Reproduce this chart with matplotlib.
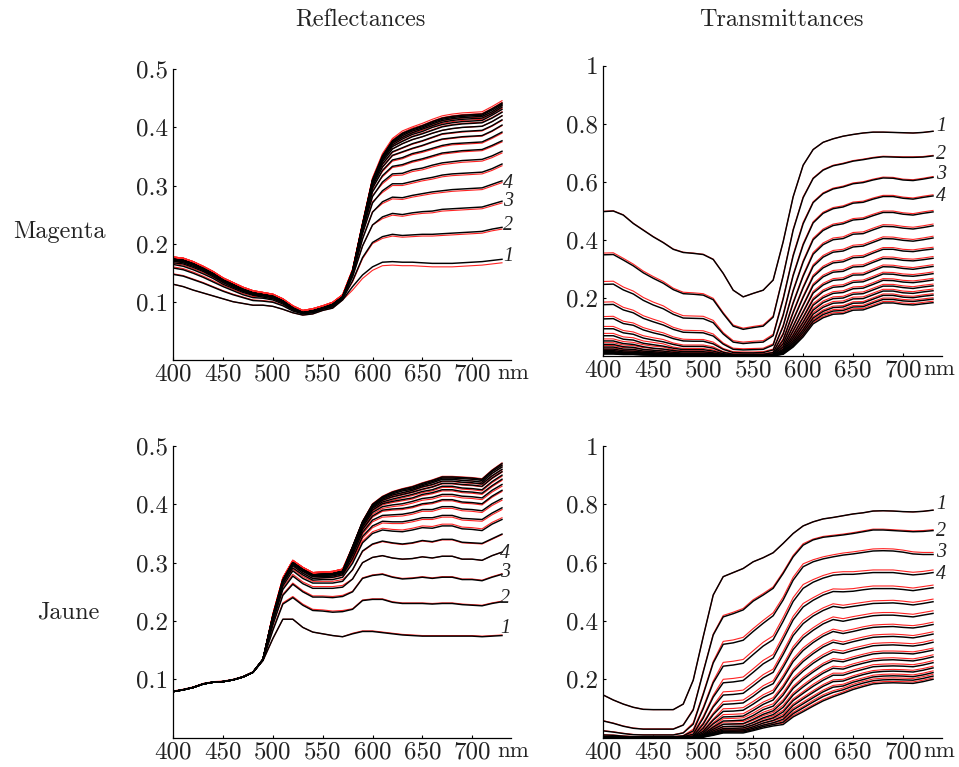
import numpy as np
import matplotlib
matplotlib.use("Agg")
import matplotlib.pyplot as plt

plt.rcParams['font.family'] = ['cmr10', 'DejaVu Serif']
plt.rcParams['mathtext.fontset'] = 'cm'
plt.rcParams['axes.formatter.use_mathtext'] = True

# ---------------- data ----------------
wavelengths = [400, 410, 420, 430, 440, 450, 460, 470, 480, 490, 500, 510,
               520, 530, 540, 550, 560, 570, 580, 590, 600, 610, 620, 630,
               640, 650, 660, 670, 680, 690, 700, 710, 720, 730]
xticks = [400, 450, 500, 550, 600, 650, 700]
xtick_labels = ['400', '450', '500', '550', '600', '650', '700']
refl_yticks = [0.1, 0.2, 0.3, 0.4, 0.5]
refl_ytick_labels = ['0.1', '0.2', '0.3', '0.4', '0.5']
trans_yticks = [0.2, 0.4, 0.6, 0.8, 1.0]
trans_ytick_labels = ['0.2', '0.4', '0.6', '0.8', '1']
col_titles = ['Reflectances', 'Transmittances']
row_labels = ['Magenta', 'Jaune']
curve_tags = ['1', '2', '3', '4']
tag_y_magenta_refl = [0.177, 0.231, 0.272, 0.303]
tag_y_magenta_trans = [0.790, 0.694, 0.625, 0.548]
tag_y_jaune_refl = [0.187, 0.239, 0.283, 0.316]
tag_y_jaune_trans = [0.798, 0.708, 0.634, 0.558]

# rows = wavelengths (400..730 nm), columns = layers 1..17 (black curves)
magenta_refl_black = [
    [.130,.147,.158,.164,.167,.170,.171,.172,.172,.173,.173,.173,.173,.173,.173,.173,.173],
    [.126,.144,.155,.161,.165,.167,.169,.170,.170,.171,.171,.171,.171,.171,.171,.171,.171],
    [.120,.138,.149,.155,.159,.161,.163,.164,.164,.165,.165,.165,.165,.165,.165,.165,.165],
    [.115,.132,.142,.148,.152,.154,.155,.156,.156,.157,.157,.157,.157,.157,.157,.157,.157],
    [.110,.125,.134,.140,.143,.145,.146,.147,.147,.148,.148,.148,.148,.148,.148,.148,.148],
    [.105,.118,.126,.130,.133,.135,.136,.136,.137,.137,.137,.137,.137,.137,.137,.137,.137],
    [.100,.112,.119,.123,.125,.127,.128,.128,.129,.129,.129,.129,.129,.129,.129,.129,.129],
    [.097,.107,.112,.116,.118,.119,.120,.120,.121,.121,.121,.121,.121,.121,.121,.121,.121],
    [.094,.102,.107,.111,.112,.113,.114,.114,.115,.115,.115,.115,.115,.115,.115,.115,.115],
    [.094,.101,.106,.108,.110,.111,.111,.112,.112,.112,.112,.112,.112,.112,.112,.112,.112],
    [.092,.099,.103,.105,.107,.108,.108,.109,.109,.109,.109,.109,.109,.109,.109,.109,.109],
    [.087,.093,.096,.098,.099,.100,.100,.101,.101,.101,.101,.101,.101,.101,.101,.101,.101],
    [.081,.084,.086,.087,.088,.088,.089,.089,.089,.089,.089,.089,.089,.089,.089,.089,.089],
    [.077,.079,.080,.080,.081,.081,.081,.081,.081,.081,.081,.081,.081,.081,.081,.081,.081],
    [.079,.081,.082,.083,.083,.084,.084,.084,.084,.084,.084,.084,.084,.084,.084,.084,.084],
    [.085,.087,.088,.088,.089,.089,.089,.089,.089,.089,.089,.089,.089,.089,.089,.089,.089],
    [.089,.091,.093,.094,.094,.095,.095,.095,.095,.095,.095,.095,.095,.095,.095,.095,.095],
    [.103,.105,.106,.107,.107,.108,.108,.108,.108,.108,.108,.108,.108,.108,.108,.108,.108],
    [.126,.136,.143,.146,.149,.150,.151,.151,.152,.152,.152,.152,.152,.152,.152,.152,.152],
    [.146,.176,.196,.208,.217,.222,.226,.228,.229,.230,.231,.231,.232,.232,.232,.232,.232],
    [.160,.202,.232,.254,.270,.281,.289,.295,.299,.302,.304,.306,.307,.308,.309,.309,.309],
    [.168,.212,.246,.272,.291,.306,.317,.326,.332,.337,.341,.344,.346,.348,.349,.350,.351],
    [.169,.216,.252,.280,.303,.320,.333,.344,.352,.358,.363,.367,.370,.373,.374,.376,.377],
    [.168,.214,.250,.279,.303,.321,.336,.348,.358,.365,.372,.376,.380,.383,.386,.388,.390],
    [.168,.215,.253,.283,.307,.327,.342,.355,.364,.372,.379,.384,.388,.391,.394,.396,.397],
    [.167,.216,.255,.286,.311,.330,.346,.359,.369,.377,.384,.389,.393,.397,.399,.401,.403],
    [.166,.216,.256,.289,.314,.335,.351,.364,.375,.383,.390,.395,.400,.403,.406,.408,.410],
    [.166,.217,.259,.291,.318,.339,.356,.369,.380,.389,.395,.401,.405,.409,.412,.414,.416],
    [.166,.218,.260,.293,.320,.341,.358,.372,.382,.391,.398,.404,.408,.412,.415,.417,.419],
    [.167,.219,.261,.294,.321,.343,.360,.373,.384,.393,.400,.406,.410,.414,.417,.419,.421],
    [.168,.220,.262,.295,.322,.344,.361,.374,.385,.394,.401,.407,.411,.415,.418,.420,.422],
    [.169,.221,.263,.296,.323,.345,.362,.375,.386,.395,.402,.408,.412,.416,.419,.421,.423],
    [.171,.225,.268,.302,.329,.351,.369,.383,.394,.403,.410,.416,.421,.424,.427,.430,.432],
    [.173,.228,.273,.308,.337,.359,.377,.392,.404,.413,.420,.426,.431,.435,.438,.440,.442],
]
# red curves: offset from the black ones, in thousandths
magenta_refl_red_milli = [
    [0,1,2,2,2,3,3,3,3,3,3,3,4,4,4,4,4],
    [0,1,2,2,2,3,3,3,3,3,3,3,4,4,4,4,4],
    [0,1,2,2,2,3,3,3,3,3,3,3,4,4,4,4,4],
    [0,1,2,2,2,3,3,3,3,3,3,3,4,4,4,4,4],
    [0,1,2,2,2,3,3,3,3,3,3,3,4,4,4,4,4],
    [0,1,2,2,2,3,3,3,3,3,3,3,4,4,4,4,4],
    [0,1,2,2,2,3,3,3,3,3,3,3,4,4,4,4,4],
    [0,1,2,2,2,3,3,3,3,3,3,3,4,4,4,4,4],
    [0,1,2,2,2,3,3,3,3,3,3,3,4,4,4,4,4],
    [0,1,2,2,2,3,3,3,3,3,3,3,4,4,4,4,4],
    [0,1,2,2,2,3,3,3,3,3,3,3,4,4,4,4,4],
    [0,1,2,2,2,3,3,3,3,3,3,3,4,4,4,4,4],
    [0,1,2,2,2,3,3,3,3,3,3,3,4,4,4,4,4],
    [0,1,2,2,2,3,3,3,3,3,3,3,4,4,4,4,4],
    [0,1,2,2,2,3,3,3,3,3,3,3,4,4,4,4,4],
    [0,1,2,2,2,3,3,3,3,3,3,3,4,4,4,4,4],
    [0,1,2,2,2,3,3,3,3,3,3,3,4,4,4,4,4],
    [0,1,2,2,2,3,3,3,3,3,3,3,4,4,4,4,4],
    [-6,-2,0,1,2,2,3,3,3,3,3,3,3,3,3,3,4],
    [-6,-2,0,1,2,2,3,3,3,3,3,3,3,3,3,3,4],
    [-6,-2,0,1,2,2,3,3,3,3,3,3,3,3,3,3,4],
    [-6,-3,-3,-3,-3,-3,-2,-2,-1,-1,0,1,2,2,3,3,4],
    [-6,-3,-3,-3,-3,-3,-2,-2,-1,-1,0,1,2,2,3,3,4],
    [-6,-3,-3,-3,-3,-3,-2,-2,-1,-1,0,1,2,2,3,3,4],
    [-6,-3,-3,-3,-3,-3,-2,-2,-1,-1,0,1,2,2,3,3,4],
    [-6,-3,-3,-3,-3,-3,-2,-2,-1,-1,0,1,2,2,3,3,4],
    [-6,-3,-3,-3,-3,-3,-2,-2,-1,-1,0,1,2,2,3,3,4],
    [-6,-3,-3,-3,-3,-3,-2,-2,-1,-1,0,1,2,2,3,3,4],
    [-6,-3,-3,-3,-3,-3,-2,-2,-1,-1,0,1,2,2,3,3,4],
    [-6,-3,-3,-3,-3,-3,-2,-2,-1,-1,0,1,2,2,3,3,4],
    [-6,-3,-3,-3,-3,-3,-2,-2,-1,-1,0,1,2,2,3,3,4],
    [-6,-3,-3,-3,-3,-3,-2,-2,-1,-1,0,1,2,2,3,3,4],
    [-6,-3,-3,-3,-3,-3,-2,-2,-1,-1,0,1,2,2,3,3,4],
    [-6,-3,-3,-3,-3,-3,-2,-2,-1,-1,0,1,2,2,3,3,4],
]

magenta_trans_black = [
    [.497,.348,.246,.176,.127,.093,.069,.051,.039,.030,.023,.018,.014,.011,.009,.007,.006],
    [.499,.349,.247,.177,.128,.093,.069,.051,.039,.030,.023,.018,.014,.011,.009,.007,.006],
    [.485,.330,.227,.158,.111,.079,.057,.042,.031,.023,.017,.013,.010,.008,.006,.005,.004],
    [.456,.310,.213,.148,.105,.074,.054,.039,.029,.022,.016,.012,.010,.008,.006,.005,.004],
    [.433,.286,.191,.129,.089,.061,.043,.031,.022,.016,.012,.009,.007,.005,.004,.003,.003],
    [.410,.267,.175,.117,.079,.054,.038,.026,.019,.014,.010,.007,.005,.004,.003,.003,.002],
    [.390,.250,.162,.106,.071,.048,.033,.023,.016,.011,.008,.006,.004,.003,.003,.002,.002],
    [.367,.228,.143,.091,.059,.039,.026,.018,.012,.008,.006,.004,.003,.002,.002,.001,.001],
    [.356,.214,.130,.081,.051,.032,.021,.014,.009,.006,.004,.003,.002,.002,.001,.001,.001],
    [.353,.212,.129,.080,.050,.032,.021,.014,.009,.006,.004,.003,.002,.002,.001,.001,.001],
    [.349,.209,.128,.079,.050,.032,.021,.014,.009,.006,.004,.003,.002,.002,.001,.001,.001],
    [.332,.193,.114,.068,.041,.026,.016,.010,.007,.004,.003,.002,.001,.001,.001,.001,0],
    [.284,.145,.075,.040,.022,.012,.007,.004,.002,.001,.001,.001,0,0,0,0,0],
    [.226,.102,.047,.022,.011,.005,.003,.001,.001,0,0,0,0,0,0,0,0],
    [.203,.091,.042,.020,.010,.005,.002,.001,.001,0,0,0,0,0,0,0,0],
    [.215,.097,.045,.021,.010,.005,.003,.001,.001,0,0,0,0,0,0,0,0],
    [.226,.102,.047,.022,.011,.005,.003,.001,.001,0,0,0,0,0,0,0,0],
    [.261,.133,.069,.037,.020,.011,.006,.004,.002,.001,.001,0,0,0,0,0,0],
    [.393,.275,.195,.139,.101,.074,.054,.041,.031,.023,.018,.014,.011,.009,.007,.006,.005],
    [.548,.433,.344,.276,.223,.181,.148,.122,.101,.085,.071,.061,.052,.045,.039,.034,.030],
    [.657,.545,.455,.382,.323,.274,.234,.201,.173,.150,.131,.115,.102,.090,.081,.072,.065],
    [.711,.611,.528,.458,.400,.350,.308,.272,.242,.216,.193,.174,.157,.143,.130,.119,.110],
    [.736,.640,.559,.491,.432,.383,.340,.303,.272,.244,.221,.200,.183,.167,.153,.142,.131],
    [.748,.655,.575,.507,.449,.400,.357,.320,.288,.260,.236,.215,.197,.181,.166,.154,.143],
    [.757,.662,.582,.513,.455,.404,.361,.324,.291,.263,.239,.218,.199,.183,.168,.156,.145],
    [.763,.671,.593,.526,.468,.419,.375,.338,.306,.278,.253,.231,.212,.196,.181,.168,.157],
    [.768,.676,.597,.529,.471,.421,.378,.340,.308,.279,.255,.233,.214,.197,.182,.169,.158],
    [.771,.682,.606,.540,.483,.434,.391,.354,.322,.293,.268,.246,.227,.210,.195,.182,.170],
    [.771,.686,.613,.549,.494,.446,.404,.367,.335,.307,.282,.260,.240,.223,.208,.194,.182],
    [.770,.685,.612,.549,.494,.445,.403,.367,.334,.306,.281,.259,.240,.223,.208,.194,.182],
    [.769,.684,.606,.543,.488,.440,.398,.361,.329,.301,.276,.254,.235,.217,.202,.189,.177],
    [.768,.684,.604,.540,.485,.437,.395,.359,.327,.298,.274,.252,.232,.215,.200,.187,.175],
    [.770,.685,.609,.546,.491,.442,.400,.364,.331,.303,.278,.256,.237,.220,.205,.191,.179],
    [.774,.689,.615,.551,.496,.448,.406,.368,.336,.308,.283,.261,.241,.224,.209,.195,.183],
]
magenta_trans_red_milli = [
    [1,6,10,9,8,8,8,7,6,5,4,4,3,3,2,2,2],
    [1,6,10,9,8,8,8,7,6,5,4,4,3,3,2,2,2],
    [1,6,10,9,8,8,8,7,6,5,4,4,3,3,2,2,2],
    [1,6,10,9,8,8,8,7,6,5,4,4,3,3,2,2,2],
    [1,6,10,9,8,8,8,7,6,5,4,4,3,3,2,2,2],
    [1,6,10,9,8,8,8,7,6,5,4,4,3,3,2,2,2],
    [1,6,10,9,8,8,8,7,6,5,4,4,3,3,2,2,2],
    [1,5,8,7,6,5,4,3,3,2,2,2,1,1,1,1,1],
    [1,5,8,7,6,5,4,3,3,2,2,2,1,1,1,1,1],
    [1,5,8,7,6,5,4,3,3,2,2,2,1,1,1,1,1],
    [1,5,8,7,6,5,4,3,3,2,2,2,1,1,1,1,1],
    [1,5,8,7,6,5,4,3,3,2,2,2,1,1,1,1,1],
    [0,4,5,4,3,2,1,1,1,1,0,0,0,0,0,0,0],
    [0,4,5,4,3,2,1,1,1,1,0,0,0,0,0,0,0],
    [0,4,5,4,3,2,1,1,1,1,0,0,0,0,0,0,0],
    [0,4,5,4,3,2,1,1,1,1,0,0,0,0,0,0,0],
    [0,4,5,4,3,2,1,1,1,1,0,0,0,0,0,0,0],
    [0,4,5,4,3,2,1,1,1,1,0,0,0,0,0,0,0],
    [0,3,5,5,5,5,5,5,4,4,4,4,4,4,4,4,4],
    [0,3,5,5,5,5,5,5,4,4,4,4,4,4,4,4,4],
    [0,3,5,5,5,5,5,5,4,4,4,4,4,4,4,4,4],
    [0,2,3,4,5,6,6,6,6,6,6,6,6,6,5,5,5],
    [0,2,3,4,5,6,6,6,6,6,6,6,6,6,5,5,5],
    [0,2,3,4,5,6,6,6,6,6,6,6,6,6,5,5,5],
    [0,2,3,4,5,6,6,6,6,6,6,6,6,6,5,5,5],
    [0,2,3,4,5,6,6,6,6,6,6,6,6,6,5,5,5],
    [0,2,3,4,5,6,6,6,6,6,6,6,6,6,5,5,5],
    [0,2,3,4,5,6,6,6,6,6,6,6,6,6,5,5,5],
    [0,2,3,4,5,6,6,6,6,6,6,6,6,6,5,5,5],
    [0,2,3,4,5,6,6,6,6,6,6,6,6,6,5,5,5],
    [0,2,3,4,5,6,6,6,6,6,6,6,6,6,5,5,5],
    [0,2,3,4,5,6,6,6,6,6,6,6,6,6,5,5,5],
    [0,2,3,4,5,6,6,6,6,6,6,6,6,6,5,5,5],
    [0,2,3,4,5,6,6,6,6,6,6,6,6,6,5,5,5],
]

jaune_refl_black = [
    [.079,.079,.079,.079,.079,.079,.079,.079,.079,.079,.079,.079,.079,.079,.079,.079,.079],
    [.082,.082,.082,.082,.082,.082,.082,.082,.082,.082,.082,.082,.082,.082,.082,.082,.082],
    [.086,.086,.086,.086,.086,.086,.086,.086,.086,.086,.086,.086,.086,.086,.086,.086,.086],
    [.092,.092,.092,.092,.092,.092,.092,.092,.092,.092,.092,.092,.092,.092,.092,.092,.092],
    [.095,.095,.095,.095,.095,.095,.095,.095,.095,.095,.095,.095,.095,.095,.095,.095,.095],
    [.096,.096,.096,.096,.096,.096,.096,.096,.096,.096,.096,.096,.096,.096,.096,.096,.096],
    [.099,.099,.099,.099,.099,.099,.099,.099,.099,.099,.099,.099,.099,.099,.099,.099,.099],
    [.104,.104,.104,.104,.104,.104,.104,.104,.104,.104,.104,.104,.104,.104,.104,.104,.104],
    [.112,.112,.112,.112,.112,.112,.112,.112,.112,.112,.112,.112,.112,.112,.112,.112,.112],
    [.132,.133,.133,.134,.134,.134,.134,.134,.134,.134,.134,.134,.134,.134,.134,.134,.134],
    [.170,.184,.193,.199,.202,.204,.206,.207,.207,.208,.208,.208,.208,.208,.208,.208,.208],
    [.203,.229,.244,.254,.260,.264,.266,.268,.269,.269,.269,.270,.270,.270,.270,.270,.270],
    [.203,.240,.263,.277,.286,.291,.295,.297,.298,.299,.299,.300,.300,.300,.300,.300,.300],
    [.189,.227,.250,.264,.273,.279,.282,.285,.286,.287,.287,.288,.288,.288,.288,.288,.288],
    [.181,.218,.241,.256,.265,.270,.273,.276,.277,.278,.278,.279,.279,.279,.279,.279,.279],
    [.178,.217,.241,.256,.265,.271,.274,.276,.278,.279,.279,.280,.280,.280,.280,.280,.280],
    [.175,.215,.240,.256,.265,.271,.275,.277,.279,.280,.280,.281,.281,.281,.281,.281,.281],
    [.173,.216,.242,.258,.268,.275,.279,.281,.283,.284,.284,.285,.285,.285,.285,.285,.285],
    [.178,.220,.250,.272,.288,.299,.307,.313,.317,.320,.322,.324,.325,.326,.327,.327,.327],
    [.182,.235,.273,.300,.320,.334,.345,.352,.357,.361,.364,.366,.367,.368,.369,.370,.370],
    [.182,.237,.278,.309,.332,.350,.363,.373,.380,.386,.390,.393,.395,.397,.398,.399,.400],
    [.180,.237,.280,.312,.337,.356,.371,.381,.390,.396,.401,.404,.407,.409,.411,.412,.413],
    [.178,.232,.275,.308,.334,.354,.370,.382,.392,.399,.405,.409,.413,.416,.418,.420,.421],
    [.176,.230,.272,.306,.332,.353,.370,.383,.393,.401,.408,.413,.417,.420,.423,.425,.426],
    [.175,.230,.273,.307,.334,.356,.373,.386,.396,.405,.411,.417,.421,.424,.426,.428,.430],
    [.174,.230,.275,.310,.338,.360,.377,.391,.401,.410,.417,.422,.426,.430,.432,.434,.436],
    [.174,.229,.273,.308,.336,.359,.377,.391,.403,.412,.420,.425,.430,.434,.437,.439,.441],
    [.174,.230,.275,.311,.340,.363,.381,.396,.408,.417,.425,.431,.436,.440,.443,.445,.447],
    [.174,.230,.275,.311,.340,.363,.381,.396,.408,.417,.425,.431,.436,.440,.443,.445,.447],
    [.174,.228,.271,.306,.335,.358,.376,.392,.404,.414,.422,.428,.434,.438,.441,.444,.446],
    [.174,.227,.271,.306,.334,.357,.375,.391,.403,.413,.421,.427,.433,.437,.440,.443,.445],
    [.173,.226,.269,.304,.333,.355,.374,.389,.401,.411,.419,.425,.431,.435,.438,.441,.443],
    [.174,.230,.275,.312,.341,.366,.385,.401,.414,.424,.432,.439,.445,.449,.453,.456,.458],
    [.175,.233,.280,.318,.349,.374,.394,.410,.424,.434,.443,.450,.456,.460,.464,.467,.470],
]
jaune_refl_red_milli = [
    [0,0,0,0,0,0,0,0,0,0,0,0,0,0,0,0,1],
    [0,0,0,0,0,0,0,0,0,0,0,0,0,0,0,0,1],
    [0,0,0,0,0,0,0,0,0,0,0,0,0,0,0,0,1],
    [0,0,0,0,0,0,0,0,0,0,0,0,0,0,0,0,1],
    [0,0,0,0,0,0,0,0,0,0,0,0,0,0,0,0,1],
    [0,0,0,0,0,0,0,0,0,0,0,0,0,0,0,0,1],
    [0,0,0,0,0,0,0,0,0,0,0,0,0,0,0,0,1],
    [0,0,0,0,0,0,0,0,0,0,0,0,0,0,0,0,1],
    [0,0,0,0,0,0,0,0,0,0,0,0,0,0,0,0,1],
    [0,0,0,0,0,0,0,0,0,0,0,0,0,0,0,0,1],
    [0,2,2,3,3,3,3,3,3,3,3,3,4,4,4,4,4],
    [0,2,2,3,3,3,3,3,3,3,3,3,4,4,4,4,4],
    [0,2,2,3,3,3,3,3,3,3,3,3,4,4,4,4,4],
    [0,2,2,3,3,3,3,3,3,3,3,3,4,4,4,4,4],
    [0,2,2,3,3,3,3,3,3,3,3,3,4,4,4,4,4],
    [0,2,2,3,3,3,3,3,3,3,3,3,4,4,4,4,4],
    [0,2,2,3,3,3,3,3,3,3,3,3,4,4,4,4,4],
    [0,2,2,3,3,3,3,3,3,3,3,3,4,4,4,4,4],
    [1,1,1,0,-1,3,-3,-3,-2,-3,-2,-2,-1,-1,0,1,1],
    [1,1,1,0,-1,3,-3,-3,-2,-3,-2,-2,-1,-1,0,1,1],
    [1,1,1,0,-1,3,-3,-3,-2,-3,-2,-2,-1,-1,0,1,1],
    [1,1,1,0,-1,3,-3,-3,-2,-3,-2,-2,-1,-1,0,1,1],
    [1,1,1,0,-1,3,-3,-3,-2,-3,-2,-2,-1,-1,0,1,1],
    [1,1,1,0,-1,3,-3,-3,-2,-3,-2,-2,-1,-1,0,1,1],
    [1,1,1,0,-1,3,-3,-3,-2,-3,-2,-2,-1,-1,0,1,1],
    [1,1,1,0,-1,3,-3,-3,-2,-3,-2,-2,-1,-1,0,1,1],
    [1,1,1,0,-1,3,-3,-3,-2,-3,-2,-2,-1,-1,0,1,1],
    [1,1,1,0,-1,3,-3,-3,-2,-3,-2,-2,-1,-1,0,1,1],
    [1,1,1,0,-1,3,-3,-3,-2,-3,-2,-2,-1,-1,0,1,1],
    [1,1,1,0,-1,3,-3,-3,-2,-3,-2,-2,-1,-1,0,1,1],
    [1,1,1,0,-1,3,-3,-3,-2,-3,-2,-2,-1,-1,0,1,1],
    [1,1,1,0,-1,3,-3,-3,-2,-3,-2,-2,-1,-1,0,1,1],
    [1,1,1,0,-1,3,-3,-3,-2,-3,-2,-2,-1,-1,0,1,1],
    [1,1,1,0,-1,3,-3,-3,-2,-3,-2,-2,-1,-1,0,1,1],
]

jaune_trans_black = [
    [.146,.057,.023,.009,.004,.002,.001,0,0,0,0,0,0,0,0,0,0],
    [.129,.049,.019,.008,.003,.001,.001,0,0,0,0,0,0,0,0,0,0],
    [.115,.039,.014,.005,.002,.001,0,0,0,0,0,0,0,0,0,0,0],
    [.104,.032,.010,.003,.001,0,0,0,0,0,0,0,0,0,0,0,0],
    [.097,.029,.009,.003,.001,0,0,0,0,0,0,0,0,0,0,0,0],
    [.096,.029,.009,.003,.001,0,0,0,0,0,0,0,0,0,0,0,0],
    [.096,.029,.009,.003,.001,0,0,0,0,0,0,0,0,0,0,0,0],
    [.096,.029,.009,.003,.001,0,0,0,0,0,0,0,0,0,0,0,0],
    [.115,.043,.016,.006,.003,.001,0,0,0,0,0,0,0,0,0,0,0],
    [.197,.095,.046,.023,.012,.006,.003,.002,.001,.001,0,0,0,0,0,0,0],
    [.346,.225,.148,.099,.067,.046,.032,.022,.016,.011,.008,.006,.005,.004,.003,.002,.002],
    [.489,.352,.256,.188,.139,.105,.079,.060,.047,.036,.029,.023,.018,.015,.012,.010,.008],
    [.552,.414,.320,.245,.188,.146,.114,.090,.071,.057,.046,.038,.031,.026,.022,.018,.016],
    [.566,.425,.325,.249,.191,.148,.116,.091,.072,.058,.047,.039,.032,.026,.022,.019,.016],
    [.580,.438,.334,.255,.196,.152,.119,.094,.074,.060,.048,.039,.033,.027,.023,.019,.016],
    [.603,.468,.364,.285,.224,.178,.142,.115,.093,.076,.063,.052,.044,.037,.032,.027,.024],
    [.617,.489,.392,.314,.253,.205,.168,.138,.114,.096,.080,.068,.058,.050,.043,.038,.033],
    [.634,.512,.418,.336,.273,.224,.185,.154,.129,.108,.092,.079,.068,.059,.051,.045,.040],
    [.666,.563,.472,.399,.337,.285,.241,.204,.172,.146,.123,.104,.088,.074,.063,.053,.045],
    [.700,.620,.540,.467,.404,.350,.302,.261,.226,.196,.169,.146,.127,.110,.095,.082,.071],
    [.726,.660,.586,.512,.448,.391,.342,.299,.261,.228,.200,.174,.152,.133,.116,.102,.089],
    [.740,.678,.603,.533,.471,.417,.368,.326,.288,.255,.225,.199,.176,.155,.137,.122,.108],
    [.750,.687,.613,.547,.489,.436,.390,.348,.311,.277,.248,.221,.197,.176,.157,.141,.126],
    [.755,.691,.620,.557,.501,.450,.405,.364,.327,.294,.264,.238,.214,.192,.173,.155,.140],
    [.761,.695,.626,.560,.500,.445,.399,.357,.320,.289,.260,.235,.214,.194,.177,.164,.152],
    [.767,.700,.630,.560,.502,.450,.406,.364,.329,.299,.270,.246,.225,.206,.190,.177,.165],
    [.771,.706,.635,.563,.507,.455,.412,.372,.337,.307,.279,.255,.234,.216,.199,.187,.175],
    [.777,.712,.640,.566,.511,.460,.418,.378,.344,.315,.287,.263,.243,.224,.208,.195,.184],
    [.778,.712,.641,.566,.511,.461,.420,.380,.346,.317,.290,.266,.245,.227,.211,.198,.187],
    [.777,.710,.640,.566,.511,.462,.420,.381,.347,.318,.290,.267,.246,.228,.212,.199,.188],
    [.775,.708,.636,.562,.508,.459,.417,.378,.345,.316,.289,.265,.245,.227,.211,.198,.187],
    [.774,.706,.630,.558,.504,.455,.414,.376,.342,.314,.287,.263,.243,.225,.209,.197,.186],
    [.776,.707,.628,.561,.509,.460,.420,.381,.348,.319,.293,.269,.249,.231,.215,.203,.192],
    [.780,.710,.628,.566,.514,.466,.426,.388,.355,.327,.300,.277,.257,.239,.223,.211,.200],
]
jaune_trans_red_milli = [
    [0,1,1,1,1,1,0,0,0,0,0,0,0,0,0,0,0],
    [0,1,1,1,1,1,0,0,0,0,0,0,0,0,0,0,0],
    [0,1,1,1,1,1,0,0,0,0,0,0,0,0,0,0,0],
    [0,1,1,1,1,1,0,0,0,0,0,0,0,0,0,0,0],
    [0,1,1,1,1,1,0,0,0,0,0,0,0,0,0,0,0],
    [0,1,1,1,1,1,0,0,0,0,0,0,0,0,0,0,0],
    [0,1,1,1,1,1,0,0,0,0,0,0,0,0,0,0,0],
    [0,1,1,1,1,1,0,0,0,0,0,0,0,0,0,0,0],
    [0,1,1,1,1,1,0,0,0,0,0,0,0,0,0,0,0],
    [0,3,5,6,6,5,5,4,4,3,3,3,2,2,2,2,2],
    [0,3,5,6,6,5,5,4,4,3,3,3,2,2,2,2,2],
    [0,3,5,6,6,5,5,4,4,3,3,3,2,2,2,2,2],
    [0,5,10,13,12,11,10,9,8,8,7,7,6,6,6,5,5],
    [0,5,10,13,12,11,10,9,8,8,7,7,6,6,6,5,5],
    [0,5,10,13,12,11,10,9,8,8,7,7,6,6,6,5,5],
    [0,5,10,13,12,11,10,9,8,8,7,7,6,6,6,5,5],
    [0,5,10,13,12,11,10,9,8,8,7,7,6,6,6,5,5],
    [0,5,10,13,12,11,10,9,8,8,7,7,6,6,6,5,5],
    [0,5,10,13,12,11,10,9,8,8,7,7,6,6,6,5,5],
    [0,5,10,13,12,11,10,9,8,8,7,7,6,6,6,5,5],
    [0,5,10,13,12,11,10,9,8,8,7,7,6,6,6,5,5],
    [0,3,7,9,9,9,9,8,8,8,7,7,7,6,6,6,5],
    [0,3,7,9,9,9,9,8,8,8,7,7,7,6,6,6,5],
    [0,3,7,9,9,9,9,8,8,8,7,7,7,6,6,6,5],
    [0,3,7,9,9,9,9,8,8,8,7,7,7,6,6,6,5],
    [0,3,7,9,9,9,9,8,8,8,7,7,7,6,6,6,5],
    [0,3,7,9,9,9,9,8,8,8,7,7,7,6,6,6,5],
    [0,3,7,9,9,9,9,8,8,8,7,7,7,6,6,6,5],
    [0,3,7,9,9,9,9,8,8,8,7,7,7,6,6,6,5],
    [0,3,7,9,9,9,9,8,8,8,7,7,7,6,6,6,5],
    [0,3,7,9,9,9,9,8,8,8,7,7,7,6,6,6,5],
    [0,3,7,9,9,9,9,8,8,8,7,7,7,6,6,6,5],
    [0,3,7,9,9,9,9,8,8,8,7,7,7,6,6,6,5],
    [0,3,7,9,9,9,9,8,8,8,7,7,7,6,6,6,5],
]

# ---------------- figure ----------------
W_PX, H_PX = 959, 767
fig = plt.figure(figsize=(W_PX / 100, H_PX / 100), dpi=100)

TICK_FS = 18
LABEL_FS = 17.5
TAG_FS = 14.5
RED = '#ff2424'
TEXT_COLOR = '#222222'


def draw_panel(rect, black_rows, red_rows, ymax, yticks, yticklabels,
               tag_x, tag_y, nm_x):
    ax = fig.add_axes(rect)
    black = np.array(black_rows, dtype=float).T
    red = np.clip(black + np.array(red_rows, dtype=float).T / 1000.0, 0, None)
    for curve in red:
        ax.plot(wavelengths, curve, color=RED, lw=0.8, solid_joinstyle='round')
    for curve in black:
        ax.plot(wavelengths, curve, color='black', lw=1.05, solid_joinstyle='round')
    ax.set_xlim(400, 739)
    ax.set_ylim(0, ymax)
    for s in ('top', 'right'):
        ax.spines[s].set_visible(False)
    for s in ('left', 'bottom'):
        ax.spines[s].set_linewidth(0.9)
    ax.set_xticks(xticks)
    ax.set_xticklabels(xtick_labels)
    ax.set_yticks(yticks)
    ax.set_yticklabels(yticklabels)
    ax.tick_params(direction='in', length=2.5, width=0.8, labelsize=TICK_FS,
                   labelcolor=TEXT_COLOR)
    ax.tick_params(axis='x', pad=2.5)
    ax.tick_params(axis='y', pad=3.5)
    ax.annotate('nm', xy=(nm_x, 0), xycoords=('data', 'axes fraction'),
                xytext=(0, -2.5), textcoords='offset points', color=TEXT_COLOR,
                ha='center', va='top', fontsize=TICK_FS - 1.5, annotation_clip=False)
    for t, y in zip(curve_tags, tag_y):
        ax.text(tag_x, y, t, fontfamily=['Liberation Serif', 'DejaVu Serif'],
                fontstyle='italic', fontsize=TAG_FS, ha='center', va='center',
                color=TEXT_COLOR, clip_on=False)
    return ax


draw_panel([0.1807, 0.5309, 0.3521, 0.3787], magenta_refl_black, magenta_refl_red_milli,
           0.5, refl_yticks, refl_ytick_labels, 736, tag_y_magenta_refl, 741)
draw_panel([0.6291, 0.5362, 0.3532, 0.3781], magenta_trans_black, magenta_trans_red_milli,
           1.0, trans_yticks, trans_ytick_labels, 738, tag_y_magenta_trans, 736)
draw_panel([0.1807, 0.0383, 0.3521, 0.3802], jaune_refl_black, jaune_refl_red_milli,
           0.5, refl_yticks, refl_ytick_labels, 733, tag_y_jaune_refl, 741)
draw_panel([0.6291, 0.0383, 0.3532, 0.3802], jaune_trans_black, jaune_trans_red_milli,
           1.0, trans_yticks, trans_ytick_labels, 738, tag_y_jaune_trans, 736)

fig.text(0.376, 0.974, col_titles[0], ha='center', va='center', fontsize=LABEL_FS, color=TEXT_COLOR)
fig.text(0.815, 0.974, col_titles[1], ha='center', va='center', fontsize=LABEL_FS, color=TEXT_COLOR)
fig.text(0.0615, 0.6975, row_labels[0], ha='center', va='center', fontsize=LABEL_FS, color=TEXT_COLOR)
fig.text(0.0709, 0.2021, row_labels[1], ha='center', va='center', fontsize=LABEL_FS, color=TEXT_COLOR)

fig.savefig('out.png', dpi=100)
